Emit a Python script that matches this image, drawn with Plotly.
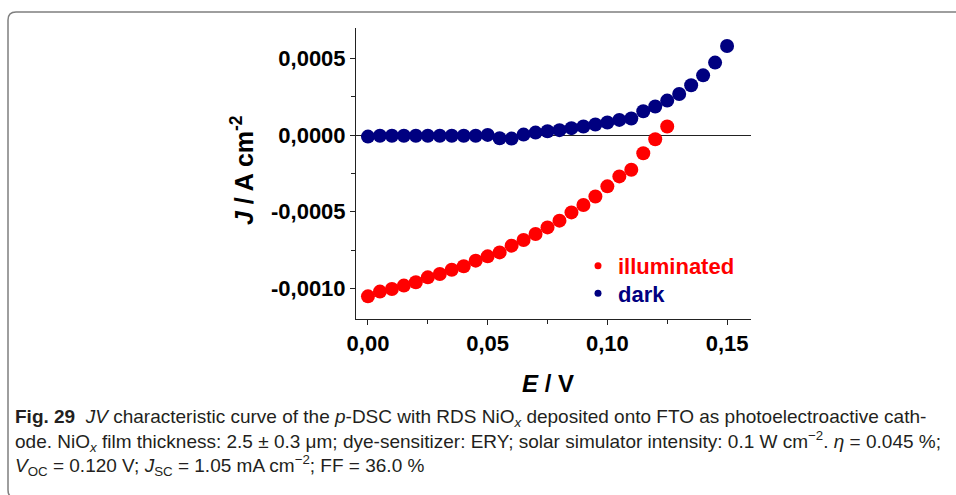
import plotly.graph_objects as go

# ---------------- data ----------------
E_dark = [0.000, 0.005, 0.010, 0.015, 0.020, 0.025, 0.030, 0.035, 0.040, 0.045,
          0.050, 0.055, 0.060, 0.065, 0.070, 0.075, 0.080, 0.085, 0.090, 0.095,
          0.100, 0.105, 0.110, 0.115, 0.120, 0.125, 0.130, 0.135, 0.140, 0.145, 0.150]
J_dark = [-0.000009, -0.000004, -0.000004, -0.000004, -0.000004, -0.000004, -0.000004,
          -0.000004, -0.000004, -0.000004, 0.000002, -0.000020, -0.000022, 0.000004,
          0.000017, 0.000026, 0.000033, 0.000046, 0.000057, 0.000070, 0.000083,
          0.000100, 0.000109, 0.000156, 0.000187, 0.000226, 0.000269, 0.000326,
          0.000391, 0.000474, 0.000582]

E_illum = [0.000, 0.005, 0.010, 0.015, 0.020, 0.025, 0.030, 0.035, 0.040, 0.045,
           0.050, 0.055, 0.060, 0.065, 0.070, 0.075, 0.080, 0.085, 0.090, 0.095,
           0.100, 0.105, 0.110, 0.115, 0.120, 0.125]
J_illum = [-0.001052, -0.001021, -0.001004, -0.000982, -0.000960, -0.000928, -0.000906,
           -0.000878, -0.000856, -0.000819, -0.000791, -0.000765, -0.000721, -0.000684,
           -0.000645, -0.000602, -0.000558, -0.000504, -0.000456, -0.000400, -0.000334,
           -0.000269, -0.000226, -0.000118, -0.000026, 0.000057]

series_names = ["illuminated", "dark"]

x_tick_vals = [0.00, 0.05, 0.10, 0.15]
x_tick_text = ["0,00", "0,05", "0,10", "0,15"]
y_tick_vals = [-0.0010, -0.0005, 0.0000, 0.0005]
y_tick_text = ["-0,0010", "-0,0005", "0,0000", "0,0005"]

caption_lines = [
    "<b>Fig. 29</b>  <i>JV</i> characteristic curve of the <i>p</i>-DSC with RDS NiO<sub><i>x</i></sub> deposited onto FTO as photoelectroactive cath-",
    "ode. NiO<sub><i>x</i></sub> film thickness: 2.5 ± 0.3 μm; dye-sensitizer: ERY; solar simulator intensity: 0.1 W cm<sup>−2</sup>. <i>η</i> = 0.045 %;",
    "<i>V</i><sub>OC</sub> = 0.120 V; <i>J</i><sub>SC</sub> = 1.05 mA cm<sup>−2</sup>; FF = 36.0 %",
]

# ---------------- layout geometry ----------------
W, H = 956, 495
L, R, T, B = 356, 205, 28, 176
PW, PH = W - L - R, H - T - B

def px2x(px):
    return (px - L) / PW

def px2y(py):
    return (H - B - py) / PH

RED = "#FF0000"
NAVY = "#000080"
AXC = "#222222"
FAM = "Liberation Sans, Arial, sans-serif"
BOLD = dict(family=FAM, size=22, color="black", weight="bold")

fig = go.Figure()
fig.add_trace(go.Scatter(x=E_illum, y=J_illum, mode="markers", showlegend=False,
                         marker=dict(color=RED, size=14, line=dict(width=0))))
fig.add_trace(go.Scatter(x=E_dark, y=J_dark, mode="markers", showlegend=False,
                         marker=dict(color=NAVY, size=14, line=dict(width=0))))
# legend entries (small symbols as in the reference)
fig.add_trace(go.Scatter(x=[None], y=[None], mode="markers", legend="legend",
                         name="<span style='color:%s'>%s</span>" % (RED, series_names[0]),
                         marker=dict(color=RED, size=7)))
fig.add_trace(go.Scatter(x=[None], y=[None], mode="markers", legend="legend2",
                         name="<span style='color:%s'>%s</span>" % (NAVY, series_names[1]),
                         marker=dict(color=NAVY, size=7)))

axis_common = dict(showline=True, linecolor=AXC, linewidth=1, ticks="outside",
                   ticklen=5, tickwidth=1, tickcolor=AXC, showgrid=False,
                   tickfont=BOLD, tickmode="array", mirror=False)

fig.update_xaxes(range=[-0.005, 0.16], tickvals=x_tick_vals, ticktext=x_tick_text,
                 zeroline=False,
                 minor=dict(dtick=0.025, tick0=0, ticks="outside", ticklen=4,
                            tickcolor=AXC, tickwidth=1, showgrid=False),
                 **axis_common)
fig.update_yaxes(range=[-0.0012, 0.0007], tickvals=y_tick_vals, ticktext=y_tick_text,
                 zeroline=True, zerolinecolor=AXC, zerolinewidth=1,
                 minor=dict(dtick=0.00025, tick0=0, ticks="outside", ticklen=4,
                            tickcolor=AXC, tickwidth=1, showgrid=False),
                 **axis_common)

annotations = [
    dict(text="<b><i>J</i> / A cm<sup>-2</sup></b>", textangle=-90, xref="paper", yref="paper",
         x=px2x(242), y=px2y(170), xanchor="center", yanchor="middle", showarrow=False,
         font=dict(family=FAM, size=25, color="black")),
    dict(text="<b><i>E</i> / V</b>", xref="paper", yref="paper",
         x=px2x(548), y=px2y(383), xanchor="center", yanchor="middle", showarrow=False,
         font=dict(family=FAM, size=24, color="black")),
    dict(text="<br>".join(caption_lines), xref="paper", yref="paper",
         x=px2x(13), y=px2y(404), xanchor="left", yanchor="top", align="left",
         showarrow=False,
         font=dict(family=FAM, size=19, color="#231F20")),
]

# rounded frame around the figure + caption
x8, x16, xr = px2x(8), px2x(16), px2x(975)
yt, yt2, yb, yb2 = px2y(12), px2y(20), px2y(498), px2y(490)
frame_path = (f"M {x8},{yt2} L {x8},{yb2} Q {x8},{yb} {x16},{yb} L {xr},{yb} "
              f"L {xr},{yt} L {x16},{yt} Q {x8},{yt} {x8},{yt2} Z")

legend_common = dict(xanchor="left", yanchor="middle", bgcolor="rgba(0,0,0,0)",
                     borderwidth=0, tracegroupgap=0,
                     font=dict(family=FAM, size=22, weight="bold"))

fig.update_layout(
    width=W, height=H,
    margin=dict(l=L, r=R, t=T, b=B, pad=0),
    plot_bgcolor="white", paper_bgcolor="white",
    annotations=annotations,
    shapes=[dict(type="path", path=frame_path, xref="paper", yref="paper",
                 line=dict(color="#7F7F7F", width=1.5), fillcolor="rgba(0,0,0,0)")],
    legend=dict(x=px2x(578), y=px2y(266), **legend_common),
    legend2=dict(x=px2x(578), y=px2y(293.5), **legend_common),
)

fig.write_html("out.html", config={"displayModeBar": False},
               post_script="document.body.style.margin='0';")
